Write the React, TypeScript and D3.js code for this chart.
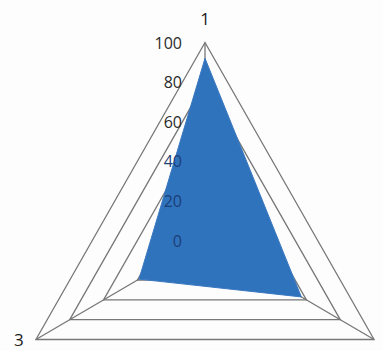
import React from "react";
import * as d3 from "d3";

const categories = ["1", "2", "3"];
const seriesValues = [92, 57, 39];
const tickValues = [0, 20, 40, 60, 80, 100];
const gridLevels = [20, 40, 60, 80, 100];

const W = 383;
const H = 351;
const cx = 205;
const cy = 240.5;
const R = 198;
const kx = 0.986;

export default function App() {
  const r = d3.scaleLinear().domain([0, 100]).range([0, R]);
  const angle = d3
    .scaleLinear()
    .domain([0, categories.length])
    .range([-Math.PI / 2, (3 * Math.PI) / 2]);
  const pt = (i: number, v: number): [number, number] => [
    cx + kx * r(v) * Math.cos(angle(i)),
    cy + r(v) * Math.sin(angle(i)),
  ];
  const line = d3.line<[number, number]>().curve(d3.curveLinearClosed);

  const dataPts = seriesValues.map((v, i) => pt(i, v));

  return (
    <svg
      width={W}
      height={H}
      style={{ position: "absolute", left: 0, top: 0, background: "#fff" }}
      fontFamily="'Open Sans', 'Liberation Sans', sans-serif"
    >
      <rect width={W} height={H} fill="#fdfdfd" />
      <g stroke="#777" strokeWidth={1.3} fill="none">
        {gridLevels.map((lv) => (
          <path key={lv} d={line(categories.map((_, i) => pt(i, lv))) || ""} />
        ))}
        {categories.map((_, i) => {
          const [x, y] = pt(i, 100);
          return <line key={i} x1={cx} y1={cy} x2={x} y2={y} />;
        })}
      </g>
      <path d={line(dataPts) || ""} fill="#2f73bd" stroke="#3a78c0" strokeWidth={1} />
      <g fontSize={16} textAnchor="end" dominantBaseline="central">
        {tickValues.map((t) => (
          <text key={t} x={cx - 23} y={cy - r(t)} fill={t <= 40 ? "#1d3f78" : "#2a2a2a"}>
            {t}
          </text>
        ))}
      </g>
      <g fontSize={17} fill="#1a1a1a" dominantBaseline="central">
        {categories.map((c, i) => {
          const [x, y] = pt(i, 100);
          const a = angle(i);
          const dx = Math.cos(a) * 14;
          const dy = Math.sin(a) * 24;
          const anchor = Math.abs(Math.cos(a)) < 0.01 ? "middle" : Math.cos(a) > 0 ? "start" : "end";
          return (
            <text
              key={c}
              x={x + (anchor === "middle" ? 0 : dx)}
              y={anchor === "middle" ? y + dy : y}
              textAnchor={anchor}
            >
              {c}
            </text>
          );
        })}
      </g>
    </svg>
  );
}
